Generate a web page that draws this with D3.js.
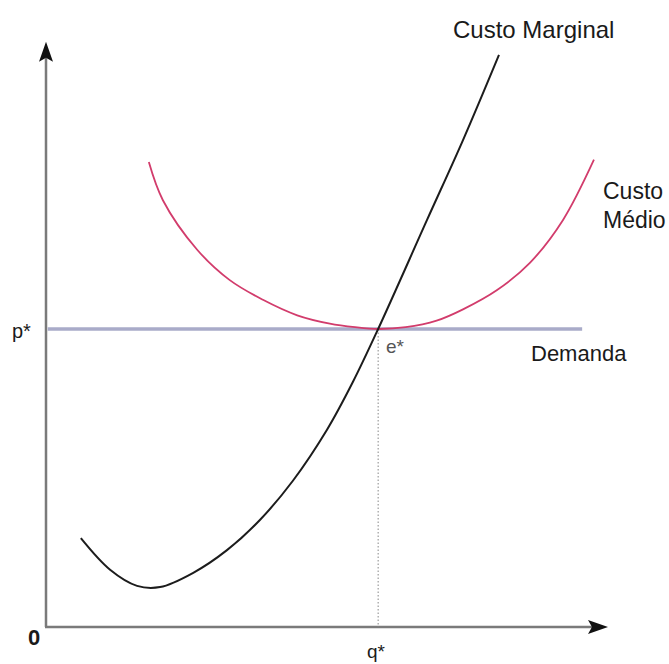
<!DOCTYPE html>
<html>
<head>
<meta charset="utf-8">
<script src="https://cdn.jsdelivr.net/npm/d3@7"></script>
<style>
  html, body { margin: 0; padding: 0; background: #fff; }
  svg { display: block; }
  text { font-family: "Liberation Sans", Arial, sans-serif; fill: #1a1a1a; }
</style>
</head>
<body>
<svg id="chart" width="669" height="664"></svg>
<script>
// Custo Marginal (quantity, price)
const mcQ = [0.62, 1.14, 1.62, 2.03, 2.62, 3.22, 3.81, 4.39, 5.00, 5.46, 5.91, 6.78, 7.42, 8.06];
const mcP = [1.49, 0.96, 0.69, 0.67, 0.91, 1.29, 1.80, 2.45, 3.31, 4.11, 5.00, 6.83, 8.17, 9.60];
// Custo Médio
const acQ = [1.83, 2.08, 2.69, 3.27, 3.86, 4.47, 5.05, 5.50, 5.91, 6.40, 6.95, 7.42, 8.02, 8.61, 9.20, 9.75];
const acP = [7.80, 7.16, 6.33, 5.82, 5.49, 5.23, 5.09, 5.03, 5.00, 5.03, 5.14, 5.33, 5.65, 6.11, 6.83, 7.84];
// Demanda (horizontal at p*)
const demandQ = [0.03, 9.54];
const pStar = 5.0;
const qStar = 5.91;
const labels = { mc: "Custo Marginal", ac: ["Custo", "Médio"], demand: "Demanda",
                 p: "p*", q: "q*", e: "e*", origin: "0" };

const svg = d3.select("#chart");
const x = d3.scaleLinear().domain([0, 10]).range([46, 608]);
const y = d3.scaleLinear().domain([0, 10]).range([627, 31]);

const line = d3.line().x(d => x(d[0])).y(d => y(d[1])).curve(d3.curveCatmullRom.alpha(0.5));

// axes
const axisColor = "#7a7a7a";
svg.append("line").attr("x1", x(0) - 1).attr("x2", x(9.78)).attr("y1", y(0)).attr("y2", y(0))
  .attr("stroke", axisColor).attr("stroke-width", 2.5);
svg.append("line").attr("x1", x(0)).attr("x2", x(0)).attr("y1", y(0)).attr("y2", y(9.55))
  .attr("stroke", axisColor).attr("stroke-width", 2.5);
// arrowheads
svg.append("path")
  .attr("d", `M${x(10)},${y(0)} L${x(10) - 20},${y(0) - 7} L${x(10) - 16},${y(0)} L${x(10) - 20},${y(0) + 7} Z`)
  .attr("fill", "#111");
svg.append("path")
  .attr("d", `M${x(0)},${y(9.82)} L${x(0) - 7},${y(9.82) + 20} L${x(0)},${y(9.82) + 16} L${x(0) + 7},${y(9.82) + 20} Z`)
  .attr("fill", "#111");

// dotted q* line
svg.append("line").attr("x1", x(qStar)).attr("x2", x(qStar)).attr("y1", y(pStar)).attr("y2", y(0))
  .attr("stroke", "#888").attr("stroke-width", 1).attr("stroke-dasharray", "1.5,2");

// demand line
svg.append("line").attr("x1", x(demandQ[0])).attr("x2", x(demandQ[1]))
  .attr("y1", y(pStar)).attr("y2", y(pStar))
  .attr("stroke", "#a9abc9").attr("stroke-width", 3.5);

// average cost
svg.append("path").datum(d3.zip(acQ, acP)).attr("d", line)
  .attr("fill", "none").attr("stroke", "#d23c6c").attr("stroke-width", 1.8);

// marginal cost
svg.append("path").datum(d3.zip(mcQ, mcP)).attr("d", line)
  .attr("fill", "none").attr("stroke", "#1c1c1c").attr("stroke-width", 2);

// labels
svg.append("text").attr("x", 453).attr("y", 38).attr("font-size", 24).text(labels.mc);
svg.append("text").attr("x", 603).attr("y", 199).attr("font-size", 23).text(labels.ac[0]);
svg.append("text").attr("x", 603).attr("y", 228).attr("font-size", 23).text(labels.ac[1]);
svg.append("text").attr("x", 531).attr("y", 361).attr("font-size", 22).text(labels.demand);
svg.append("text").attr("x", 12).attr("y", 338).attr("font-size", 20).text(labels.p);
svg.append("text").attr("x", 386).attr("y", 353).attr("font-size", 19).style("fill", "#555").text(labels.e);
svg.append("text").attr("x", 28).attr("y", 645).attr("font-size", 22).attr("font-weight", "bold").text(labels.origin);
svg.append("text").attr("x", 367).attr("y", 658).attr("font-size", 19).text(labels.q);
</script>
</body>
</html>
